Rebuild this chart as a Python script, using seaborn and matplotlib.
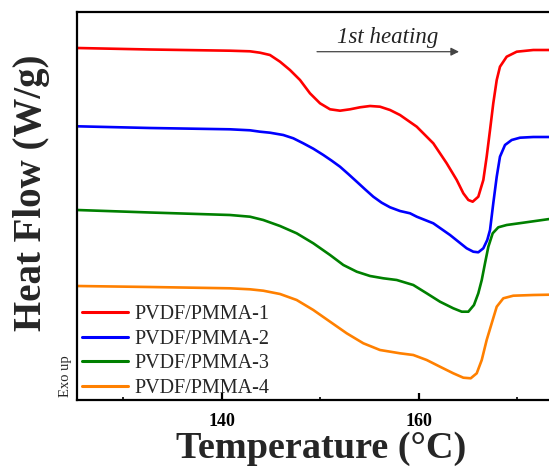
import numpy as np
import pandas as pd
import matplotlib
matplotlib.use("Agg")
import matplotlib.pyplot as plt
import seaborn as sns

# ---- data ----
samples = ["PVDF/PMMA-1", "PVDF/PMMA-2", "PVDF/PMMA-3", "PVDF/PMMA-4"]
colors = ["#ff0000", "#0000ff", "#008000", "#ff8000"]

t1 = [125.33, 132.74, 140.86, 142.89, 143.91, 144.92, 145.94, 146.95, 147.97, 148.98, 150.0,
      151.02, 152.03, 153.05, 154.06, 155.08, 156.09, 157.11, 158.12, 159.82, 161.5,
      162.86, 163.88, 164.55, 165.06, 165.5, 166.07, 166.58, 166.92, 167.26, 167.59,
      167.94, 168.27, 168.95, 169.97, 171.65, 173.3]
h1 = [3.52, 3.505, 3.493, 3.487, 3.473, 3.45, 3.383, 3.30, 3.20, 3.067, 2.967,
      2.907, 2.893, 2.907, 2.927, 2.94, 2.933, 2.90, 2.85, 2.733, 2.567,
      2.367, 2.20, 2.067, 2.00, 1.983, 2.033, 2.20, 2.433, 2.70, 2.967,
      3.20, 3.333, 3.433, 3.483, 3.50, 3.50]

t2 = [125.33, 132.74, 140.86, 142.89, 143.91, 144.92, 146.27, 147.29, 148.3, 149.32, 150.34,
      151.19, 152.03, 152.87, 153.73, 154.57, 155.41, 156.26, 157.11, 158.12, 159.14,
      159.82, 161.5, 163.2, 164.89, 165.56, 166.07, 166.58, 166.98, 167.26, 167.59,
      167.94, 168.27, 168.78, 169.46, 170.3, 171.65, 173.3]
h2 = [2.737, 2.72, 2.707, 2.697, 2.683, 2.673, 2.65, 2.617, 2.567, 2.513, 2.45,
      2.393, 2.333, 2.26, 2.183, 2.107, 2.033, 1.973, 1.927, 1.89, 1.867,
      1.833, 1.767, 1.65, 1.517, 1.483, 1.477, 1.517, 1.60, 1.70, 1.967,
      2.233, 2.433, 2.55, 2.60, 2.623, 2.63, 2.63]

t3 = [125.33, 132.74, 140.86, 142.89, 144.24, 145.94, 147.63, 149.32, 151.02, 152.37, 153.73,
      155.08, 156.43, 157.79, 159.47, 160.83, 162.18, 163.53, 164.39, 165.06, 165.63,
      166.07, 166.42, 166.75, 167.09, 167.53, 168.10, 168.95, 170.64, 173.3]
h3 = [1.90, 1.875, 1.85, 1.833, 1.80, 1.74, 1.667, 1.567, 1.45, 1.35, 1.283,
      1.24, 1.217, 1.20, 1.15, 1.067, 0.983, 0.917, 0.883, 0.883, 0.95,
      1.067, 1.20, 1.367, 1.533, 1.667, 1.727, 1.75, 1.773, 1.81]

t4 = [125.33, 132.74, 140.86, 142.89, 144.24, 145.94, 147.63, 149.32, 151.02, 152.71, 154.4,
      156.09, 158.12, 159.47, 160.83, 162.18, 163.53, 164.55, 165.30, 165.91, 166.42,
      166.92, 167.43, 167.94, 168.61, 169.62, 171.65, 173.3]
h4 = [1.14, 1.13, 1.117, 1.107, 1.093, 1.06, 1.00, 0.90, 0.783, 0.667, 0.567,
      0.50, 0.467, 0.45, 0.40, 0.333, 0.267, 0.223, 0.217, 0.267, 0.40,
      0.60, 0.767, 0.933, 1.017, 1.043, 1.05, 1.053]

x_ticks = [140, 160]
x_minor = [130, 150, 170]

frames = []
for name, t, h in zip(samples, [t1, t2, t3, t4], [h1, h2, h3, h4]):
    frames.append(pd.DataFrame({"Temperature": t, "HeatFlow": h, "Sample": name}))
df = pd.concat(frames, ignore_index=True)

# ---- style ----
sns.set_theme(style="white")
plt.rcParams["font.family"] = ["Liberation Serif", "DejaVu Serif"]
plt.rcParams["lines.solid_joinstyle"] = "round"
plt.rcParams["lines.solid_capstyle"] = "round"

W, H = 549, 472
fig = plt.figure(figsize=(W / 100, H / 100), dpi=100)
ax_left, ax_right, ax_top, ax_bottom = 77, 551, 12, 400
ax = fig.add_axes([ax_left / W, 1 - ax_bottom / H, (ax_right - ax_left) / W, (ax_bottom - ax_top) / H])

sns.lineplot(data=df, x="Temperature", y="HeatFlow", hue="Sample", palette=colors,
             estimator=None, sort=False, linewidth=1.9, ax=ax, legend=True)

ax.set_xlim(125.33, 173.45)
ax.set_ylim(0.0, 3.88)
ax.set_xticks(x_ticks)
ax.set_xticks(x_minor, minor=True)
ax.set_yticks([])
ax.tick_params(axis="x", which="major", direction="in", length=5, width=1.6,
               labelsize=13, pad=9, top=False, bottom=True, colors="black")
ax.tick_params(axis="x", which="minor", direction="in", length=2.5, width=1.4,
               top=False, bottom=True)
for lab in ax.get_xticklabels():
    lab.set_fontweight("bold")
for s in ["left", "bottom", "top"]:
    ax.spines[s].set_linewidth(1.6)
    ax.spines[s].set_color("black")
ax.spines["right"].set_visible(False)

ax.set_xlabel("")
ax.set_ylabel("")
fig.text(321 / W, 1 - 448 / H, "Temperature (°C)", ha="center", va="center",
         fontsize=27.5, fontweight="bold")
fig.text(32 / W, 1 - 193 / H, "Heat Flow (W/g)", ha="center", va="center",
         rotation=90, fontsize=28, fontweight="bold")
fig.text(66 / W, 1 - 376 / H, "Exo up", ha="center", va="center",
         rotation=90, fontsize=10.5)

# annotation arrow
ax.annotate("", xy=(140 + (459 - 221.5) / 9.85, (400 - 51.7) / 100),
            xytext=(140 + (317 - 221.5) / 9.85, (400 - 51.7) / 100),
            arrowprops=dict(arrowstyle="-|>", color="#444444", lw=0.9,
                            mutation_scale=12, shrinkA=0, shrinkB=0))
ax.text(140 + (388 - 221.5) / 9.85, (400 - 43) / 100, "1st heating",
        ha="center", va="baseline", fontsize=16.5, style="italic", color="#222222")

handles, labels = ax.get_legend_handles_labels()
leg = ax.legend(handles, labels, loc="lower left", bbox_to_anchor=(0.01, 0.005),
                frameon=False, fontsize=14.5, handlelength=2.3, handletextpad=0.3,
                labelspacing=0.28, borderpad=0.0, borderaxespad=0.0)
for line in leg.get_lines():
    line.set_linewidth(2.2)

fig.savefig("out.png", dpi=100)
